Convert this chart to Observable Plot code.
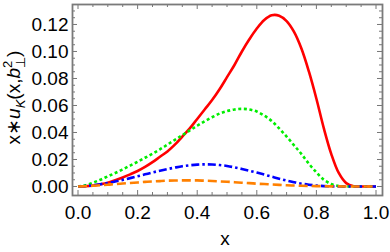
<!DOCTYPE html>
<html><head><meta charset="utf-8">
<script src="https://cdn.jsdelivr.net/npm/d3@7"></script>
<script src="https://cdn.jsdelivr.net/npm/@observablehq/plot@0.6"></script>
<style>body{margin:0;background:#fff} #chart svg{display:block}</style>
</head><body><div id="chart"></div>
<script>
const xs = [0,0.025,0.05,0.075,0.1,0.125,0.15,0.175,0.2,0.225,0.25,0.275,0.3,0.325,0.35,0.375,0.4,0.425,0.45,0.475,0.5,0.525,0.55,0.575,0.6,0.625,0.65,0.675,0.7,0.725,0.75,0.775,0.8,0.825,0.85,0.875,0.9,0.925,0.95,0.975,1.0];
const redVals = [0,0.0002,0.0007,0.0016,0.0028,0.0046,0.0067,0.009,0.0115,0.0145,0.018,0.022,0.026,0.031,0.037,0.043,0.050,0.057,0.064,0.072,0.081,0.090,0.100,0.109,0.117,0.1233,0.1268,0.1265,0.1225,0.1145,0.102,0.085,0.065,0.043,0.024,0.010,0.0025,0.0002,0,0,0];
const greenVals = [0,0.001,0.0028,0.005,0.0075,0.010,0.0127,0.0155,0.0183,0.0213,0.0243,0.0275,0.031,0.0345,0.038,0.0415,0.045,0.0483,0.0513,0.054,0.0558,0.057,0.0575,0.057,0.0555,0.0525,0.0485,0.043,0.037,0.0305,0.024,0.0168,0.0105,0.005,0.0018,0.0003,0,0,0,0,0];
const blueVals = [0,0.0003,0.0009,0.0017,0.0026,0.0037,0.0049,0.0062,0.0076,0.009,0.0104,0.0117,0.0129,0.014,0.015,0.0157,0.0162,0.0164,0.0163,0.0159,0.0152,0.0142,0.013,0.0117,0.0103,0.0088,0.0073,0.0058,0.0044,0.0032,0.0021,0.0013,0.0007,0.0003,0.0001,0,0,0,0,0,0];
const orangeVals = [0,0.0002,0.0005,0.0009,0.0013,0.0018,0.0022,0.0026,0.003,0.0034,0.0037,0.004,0.0043,0.0044,0.0045,0.0045,0.0045,0.0043,0.0041,0.0038,0.0035,0.0032,0.0028,0.0025,0.0021,0.0018,0.0015,0.0012,0.0009,0.0007,0.0005,0.0004,0.0003,0.0002,0.0001,0.0001,0,0,0,0,0];
const xTicks = [0,0.2,0.4,0.6,0.8,1.0];
const xTickLabels = ["0.0","0.2","0.4","0.6","0.8","1.0"];
const yTicks = [0,0.02,0.04,0.06,0.08,0.10,0.12];
const yTickLabels = ["0.00","0.02","0.04","0.06","0.08","0.10","0.12"];

const series = [
  {vals: redVals, color: "#ff0000", dash: null},
  {vals: greenVals, color: "#00ee00", dash: "3,2.6"},
  {vals: blueVals, color: "#0000ff", dash: "8,3,2.5,3"},
  {vals: orangeVals, color: "#ff8000", dash: "9,4"}
];

const W = 390, H = 252, mL = 72, mR = 8, mT = 4, mB = 57;
const fw = W - mL - mR, fh = H - mT - mB;
const xMinor = d3.range(0, 1.0001, 0.05).filter(v => !xTicks.some(t => Math.abs(t - v) < 1e-9));
const yMinor = d3.range(0, 0.1301, 0.005).filter(v => !yTicks.some(t => Math.abs(t - v) < 1e-9));
const tickColor = "#777";
const majorLen = 5, minorLen = 3;

const marks = [];
for (const [arr, len] of [[xTicks, majorLen], [xMinor, minorLen]]) {
  marks.push(Plot.tickX(arr, {x: d => d, insetTop: fh - len, stroke: tickColor, strokeWidth: 1}));
  marks.push(Plot.tickX(arr, {x: d => d, insetBottom: fh - len, stroke: tickColor, strokeWidth: 1}));
}
for (const [arr, len] of [[yTicks, majorLen], [yMinor, minorLen]]) {
  marks.push(Plot.tickY(arr, {y: d => d, insetRight: fw - len, stroke: tickColor, strokeWidth: 1}));
  marks.push(Plot.tickY(arr, {y: d => d, insetLeft: fw - len, stroke: tickColor, strokeWidth: 1}));
}
for (const s of series) {
  marks.push(Plot.line(xs.map((x, i) => ({x, y: s.vals[i]})), {
    x: "x", y: "y", stroke: s.color, strokeWidth: 2.6, curve: "catmull-rom",
    strokeDasharray: s.dash, strokeLinecap: "butt"
  }));
}
marks.push(Plot.frame({stroke: "#7a7a7a", strokeWidth: 1.8}));
marks.push(Plot.axisX(xTicks, {tickSize: 0, tickPadding: 10, fontSize: 19, fill: "#000",
  tickFormat: d => xTickLabels[xTicks.indexOf(d)], label: null}));
marks.push(Plot.axisY(yTicks, {tickSize: 0, tickPadding: 4, fontSize: 19, fill: "#000",
  tickFormat: d => yTickLabels[yTicks.indexOf(d)], label: null}));

const chart = Plot.plot({
  width: W, height: H,
  marginLeft: mL, marginRight: mR, marginTop: mT, marginBottom: mB,
  style: {fontFamily: "'Liberation Sans', Arial, sans-serif", fontSize: "19px", background: "#fff", color: "#000"},
  x: {domain: [-0.0185, 1.0218], axis: null},
  y: {domain: [-0.00667, 0.1348], axis: null},
  marks
});
document.getElementById("chart").appendChild(chart);

const svg = d3.select(chart);
svg.append("text")
  .attr("x", mL + fw / 2 - 2).attr("y", 245)
  .attr("text-anchor", "middle")
  .attr("font-size", 19).attr("fill", "#000")
  .text("x");

const yl = svg.append("text")
  .attr("transform", `translate(20,${mT + fh / 2 - 2}) rotate(-90)`)
  .attr("text-anchor", "middle")
  .attr("font-size", 19).attr("fill", "#000");
yl.append("tspan").text("x∗");
yl.append("tspan").attr("font-style", "italic").text("u");
yl.append("tspan").attr("font-style", "italic").attr("font-size", 13).attr("dy", 5).text("K");
yl.append("tspan").attr("dy", -5).text("(x,");
yl.append("tspan").attr("font-style", "italic").text("b");
yl.append("tspan").attr("font-size", 13).attr("dy", -8).text("2");
yl.append("tspan").attr("font-size", 13).attr("dy", 13).attr("dx", -7.2).text("⊥");
yl.append("tspan").attr("dy", -5).text(")");
</script>
</body></html>
